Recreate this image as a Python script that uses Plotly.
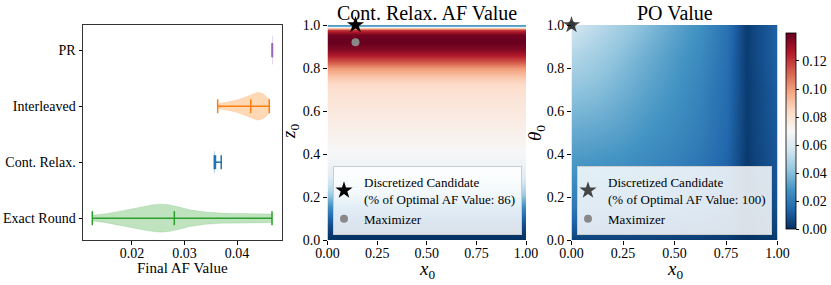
import plotly.graph_objects as go

# ---------------- data ----------------
categories = ["Exact Round", "Cont. Relax.", "Interleaved", "PR"]
cat_colors = ["#2ca02c", "#1f77b4", "#ff7f0e", "#9467bd"]
cat_min = [0.01244, 0.03568, 0.03632, 0.04673]
cat_max = [0.04667, 0.03700, 0.04615, 0.04673]
cat_mean = [0.02806, 0.03590, 0.04261, 0.04673]

# violin density outlines (value, half-width)
er_x = [0.01244, 0.015, 0.018, 0.021, 0.024, 0.0255, 0.027, 0.029, 0.031, 0.034, 0.037, 0.040, 0.043, 0.046, 0.04667]
er_hw = [0.05, 0.08, 0.13, 0.19, 0.24, 0.25, 0.24, 0.20, 0.15, 0.11, 0.09, 0.085, 0.085, 0.08, 0.075]
cr_x = [0.03562, 0.03566, 0.0357, 0.03576, 0.0359, 0.0370]
cr_hw = [0.0, 0.2, 0.2, 0.08, 0.01, 0.005]
il_x = [0.03632, 0.038, 0.040, 0.041, 0.042, 0.043, 0.044, 0.045, 0.0458, 0.04615]
il_hw = [0.04, 0.07, 0.11, 0.14, 0.18, 0.22, 0.25, 0.22, 0.16, 0.12]
pr_x = [0.04669, 0.04673, 0.04677]
pr_hw = [0.25, 0.25, 0.25]
violin_x = [er_x, cr_x, il_x, pr_x]
violin_hw = [er_hw, cr_hw, il_hw, pr_hw]

# Cont. Relax. AF value profile along z0 (uniform in x0)
af_z = [0.0, 0.03, 0.06, 0.10, 0.14, 0.18, 0.22, 0.26, 0.30, 0.36, 0.44, 0.52, 0.60, 0.68,
        0.72, 0.76, 0.80, 0.83, 0.86, 0.89, 0.92, 0.955, 0.965, 0.975, 0.982, 0.988, 0.992, 0.996, 1.0]
af_val = [0.000, 0.002, 0.006, 0.012, 0.022, 0.034, 0.046, 0.055, 0.062, 0.067, 0.071, 0.074, 0.077, 0.080,
          0.083, 0.089, 0.100, 0.113, 0.126, 0.135, 0.1397, 0.138, 0.132, 0.120, 0.105, 0.088, 0.065, 0.035, 0.030]
af_x = [0.0, 1.0]

# PO value grid
po_x = [0, 0.125, 0.25, 0.375, 0.5, 0.625, 0.75, 0.8, 0.85, 0.9, 1.0]
po_theta = [0.0, 0.05, 0.15, 0.30, 0.50, 0.70, 0.85, 1.0]
po_val = [
    [0.004, 0.004, 0.004, 0.004, 0.003, 0.003, 0.002, 0.001, 0.000, 0.001, 0.002],
    [0.010, 0.010, 0.010, 0.009, 0.009, 0.008, 0.006, 0.004, 0.002, 0.003, 0.005],
    [0.019, 0.019, 0.018, 0.017, 0.016, 0.014, 0.010, 0.006, 0.002, 0.004, 0.008],
    [0.027, 0.026, 0.025, 0.023, 0.021, 0.018, 0.013, 0.008, 0.002, 0.005, 0.010],
    [0.034, 0.033, 0.031, 0.028, 0.025, 0.021, 0.015, 0.009, 0.003, 0.006, 0.011],
    [0.042, 0.040, 0.036, 0.032, 0.028, 0.023, 0.016, 0.010, 0.003, 0.006, 0.012],
    [0.049, 0.045, 0.040, 0.035, 0.030, 0.025, 0.017, 0.010, 0.003, 0.007, 0.013],
    [0.057, 0.051, 0.045, 0.039, 0.033, 0.027, 0.018, 0.011, 0.003, 0.007, 0.013],
]
cmin, cmax = 0.0, 0.1397

cand_cr = (0.141, 1.0)
max_cr = (0.141, 0.92)
cand_po = (0.0, 1.0)
max_po = (0.0, 1.0)
pct_cr, pct_po = 86, 100

x_ticks = [0, 0.25, 0.5, 0.75, 1.0]
y_ticks = [0, 0.2, 0.4, 0.6, 0.8, 1.0]
cb_ticks = [0, 0.02, 0.04, 0.06, 0.08, 0.10, 0.12]

rdbu_r = [[0.0, "#053061"], [0.1, "#2166ac"], [0.2, "#4393c3"], [0.3, "#92c5de"], [0.4, "#d1e5f0"],
          [0.5, "#f7f7f7"], [0.6, "#fddbc7"], [0.7, "#f4a582"], [0.8, "#d6604d"], [0.9, "#b2182b"],
          [1.0, "#67001f"]]

FONT = "Liberation Serif"
W, H = 831, 285


def hx(px):
    return px / W


def vy(py):
    return (H - py) / H


def rgba(hexc, a):
    h = hexc.lstrip("#")
    return "rgba(%d,%d,%d,%s)" % (int(h[0:2], 16), int(h[2:4], 16), int(h[4:6], 16), a)


fig = go.Figure()

# ---------------- violins ----------------
cap = 0.125
for i, cat in enumerate(categories):
    xs = list(violin_x[i]) + list(violin_x[i])[::-1]
    ys = [i + h for h in violin_hw[i]] + [i - h for h in violin_hw[i]][::-1]
    fig.add_trace(go.Scatter(x=xs, y=ys, fill="toself", fillcolor=rgba(cat_colors[i], 0.3),
                             line=dict(color=rgba(cat_colors[i], 0.3), width=0.5), mode="lines",
                             showlegend=False, hoverinfo="skip", xaxis="x", yaxis="y"))
    lx = [cat_min[i], cat_max[i], None,
          cat_min[i], cat_min[i], None,
          cat_max[i], cat_max[i], None,
          cat_mean[i], cat_mean[i]]
    ly = [i, i, None, i - cap, i + cap, None, i - cap, i + cap, None, i - cap, i + cap]
    fig.add_trace(go.Scatter(x=lx, y=ly, mode="lines", line=dict(color=cat_colors[i], width=1.5),
                             showlegend=False, hoverinfo="skip", xaxis="x", yaxis="y"))

# ---------------- heatmaps ----------------
fig.add_trace(go.Heatmap(x=af_x, y=af_z, z=[[v, v] for v in af_val], colorscale=rdbu_r,
                         zmin=cmin, zmax=cmax, zsmooth="best", showscale=False,
                         xaxis="x2", yaxis="y2"))
fig.add_trace(go.Heatmap(x=po_x, y=po_theta, z=po_val, colorscale=rdbu_r, zmin=cmin, zmax=cmax,
                         zsmooth="best", xaxis="x3", yaxis="y3",
                         colorbar=dict(x=hx(786), xanchor="left", y=vy(131.3), yanchor="middle",
                                       len=196 / H, lenmode="fraction", thickness=10,
                                       thicknessmode="pixels", outlinewidth=0.8, outlinecolor="black",
                                       tickvals=cb_ticks, ticktext=["%.2f" % t for t in cb_ticks],
                                       ticks="outside", ticklen=3.5, tickwidth=0.8, tickcolor="black",
                                       tickfont=dict(family=FONT, size=14, color="black"), xpad=0, ypad=0)))

# markers
cand_label = "Discretized Candidate<br>(%% of Optimal AF Value: %d)"
fig.add_trace(go.Scatter(x=[cand_cr[0]], y=[cand_cr[1]], mode="markers",
                         marker=dict(symbol="star", size=13, color="black", line=dict(width=0)),
                         name=cand_label % pct_cr, xaxis="x2", yaxis="y2", legend="legend", cliponaxis=False))
fig.add_trace(go.Scatter(x=[max_cr[0]], y=[max_cr[1]], mode="markers",
                         marker=dict(symbol="circle", size=8, color="#888888", line=dict(width=0)),
                         name="Maximizer", xaxis="x2", yaxis="y2", legend="legend", cliponaxis=False))
fig.add_trace(go.Scatter(x=[max_po[0]], y=[max_po[1]], mode="markers",
                         marker=dict(symbol="circle", size=8, color="#888888", line=dict(width=0)),
                         name="Maximizer", xaxis="x3", yaxis="y3", legend="legend2", cliponaxis=False,
                         showlegend=False))
fig.add_trace(go.Scatter(x=[cand_po[0]], y=[cand_po[1]], mode="markers",
                         marker=dict(symbol="star", size=13, color="rgba(40,40,40,0.85)", line=dict(width=0)),
                         name=cand_label % pct_po, xaxis="x3", yaxis="y3", legend="legend2", cliponaxis=False))
fig.add_trace(go.Scatter(x=[None], y=[None], mode="markers",
                         marker=dict(symbol="circle", size=8, color="#888888", line=dict(width=0)),
                         name="Maximizer", xaxis="x3", yaxis="y3", legend="legend2"))

tickfont = dict(family=FONT, size=14, color="black")
common_ticks = dict(ticks="outside", ticklen=3.5, tickwidth=0.8, tickcolor="black", tickfont=tickfont,
                    showgrid=False, zeroline=False, automargin=False)

ydom = [vy(240), vy(25)]
legend_common = dict(font=dict(family=FONT, size=13, color="black"), bgcolor="rgba(255,255,255,0.85)",
                     bordercolor="#cccccc", borderwidth=1, xanchor="left", yanchor="bottom",
                     itemwidth=30, tracegroupgap=0, indentation=-10)

fig.update_layout(
    width=W, height=H, autosize=False, margin=dict(l=0, r=0, t=0, b=0, autoexpand=False),
    paper_bgcolor="white", plot_bgcolor="white",
    font=dict(family=FONT, color="black"),
    xaxis=dict(domain=[hx(83), hx(282)], range=[0.01067, 0.04857], tickvals=[0.02, 0.03, 0.04],
               ticktext=["0.02", "0.03", "0.04"], showline=True, mirror=True, linecolor="#333333",
               linewidth=1, anchor="y", ticklabelstandoff=-3, **common_ticks),
    yaxis=dict(domain=ydom, range=[-0.39, 3.45], tickvals=[0, 1, 2, 3], ticktext=categories,
               showline=True, mirror=True, linecolor="#333333", linewidth=1, anchor="x", **common_ticks),
    xaxis2=dict(domain=[hx(327.5), hx(526)], range=[0, 1], tickvals=x_ticks,
                ticktext=["%.2f" % t for t in x_ticks], anchor="y2", showline=False,
                ticklabelstandoff=-3, **common_ticks),
    yaxis2=dict(domain=ydom, range=[0, 1], tickvals=y_ticks, ticktext=["%.1f" % t for t in y_ticks],
                anchor="x2", showline=False, **common_ticks),
    xaxis3=dict(domain=[hx(571.5), hx(777.5)], range=[0, 1], tickvals=x_ticks,
                ticktext=["%.2f" % t for t in x_ticks], anchor="y3", showline=False,
                ticklabelstandoff=-3, **common_ticks),
    yaxis3=dict(domain=ydom, range=[0, 1], tickvals=y_ticks, ticktext=["%.1f" % t for t in y_ticks],
                anchor="x3", showline=False, **common_ticks),
    legend=dict(x=hx(333), y=vy(235), **legend_common),
    legend2=dict(x=hx(577), y=vy(235), **legend_common),
    annotations=[
        dict(text="Final AF Value", x=hx(182.5), y=vy(268), xref="paper", yref="paper",
             showarrow=False, font=dict(family=FONT, size=15, color="black"), xanchor="center", yanchor="middle"),
        dict(text="Cont. Relax. AF Value", x=hx(426.75), y=vy(13), xref="paper", yref="paper",
             showarrow=False, font=dict(family=FONT, size=20, color="black"), xanchor="center", yanchor="middle"),
        dict(text="PO Value", x=hx(674.5), y=vy(13), xref="paper", yref="paper",
             showarrow=False, font=dict(family=FONT, size=20, color="black"), xanchor="center", yanchor="middle"),
        dict(text="<i>x</i><sub>0</sub>", x=hx(426.75), y=vy(270), xref="paper", yref="paper",
             showarrow=False, font=dict(family=FONT, size=19, color="black"), xanchor="center", yanchor="middle"),
        dict(text="<i>x</i><sub>0</sub>", x=hx(674.5), y=vy(270), xref="paper", yref="paper",
             showarrow=False, font=dict(family=FONT, size=19, color="black"), xanchor="center", yanchor="middle"),
        dict(text="<i>z</i><sub>0</sub>", x=hx(290), y=vy(132), xref="paper", yref="paper", textangle=-90,
             showarrow=False, font=dict(family=FONT, size=19, color="black"), xanchor="center", yanchor="middle"),
        dict(text="<i>θ</i><sub>0</sub>", x=hx(536), y=vy(133), xref="paper", yref="paper", textangle=-90,
             showarrow=False, font=dict(family=FONT, size=19, color="black"), xanchor="center", yanchor="middle"),
    ],
)

fig.write_html("out.html", config={"displayModeBar": False},
               post_script="document.body.style.margin='0px';document.body.style.padding='0px';")
